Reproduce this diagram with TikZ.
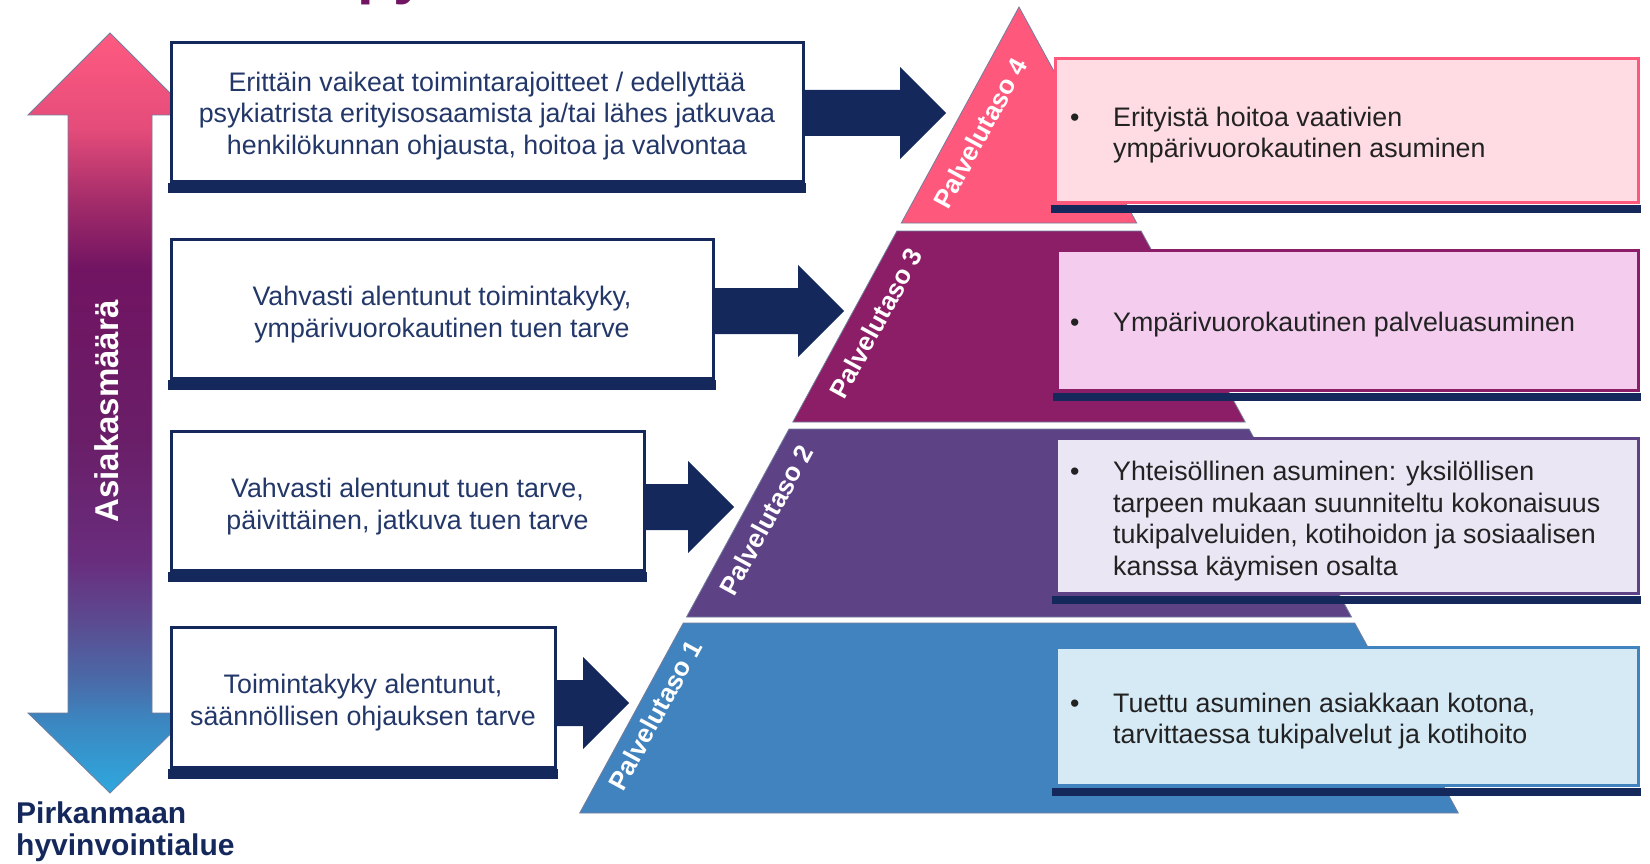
\documentclass[tikz,border=0pt]{standalone}
\usepackage{fontspec}
\setmainfont{Liberation Sans}
\usetikzlibrary{calc}
\definecolor{navy}{RGB}{20,40,92}
\definecolor{ltext}{RGB}{35,55,105}
\definecolor{rtextc}{RGB}{34,34,34}
\definecolor{tpink}{RGB}{255,88,125}
\definecolor{tmag}{RGB}{139,30,102}
\definecolor{tpur}{RGB}{94,66,134}
\definecolor{tblue}{RGB}{65,131,190}
\definecolor{fpink}{RGB}{255,220,228}
\definecolor{fmag}{RGB}{244,205,238}
\definecolor{fpur}{RGB}{234,230,244}
\definecolor{fblue}{RGB}{214,234,246}
\definecolor{gA}{RGB}{255,90,128}
\definecolor{gB}{RGB}{228,76,122}
\definecolor{gC}{RGB}{165,45,106}
\definecolor{gD}{RGB}{113,20,98}
\definecolor{gE}{RGB}{106,30,104}
\definecolor{gF}{RGB}{105,45,125}
\definecolor{gG}{RGB}{92,74,144}
\definecolor{gH}{RGB}{74,106,168}
\definecolor{gJ}{RGB}{60,134,192}
\definecolor{gI}{RGB}{46,168,222}
\pgfdeclareverticalshading{asiakshade}{100bp}{color(0bp)=(gI); color(25bp)=(gI); color(29.81bp)=(gJ); color(32.44bp)=(gH); color(36.40bp)=(gG); color(40.35bp)=(gF); color(48.25bp)=(gE); color(59.45bp)=(gD); color(64.06bp)=(gC); color(68.68bp)=(gB); color(75bp)=(gA); color(100bp)=(gA)}
\newcommand\boxfont{\fontsize{26.8}{31.6}\selectfont}
\newcommand\blockarrow[2]{%
  \fill[navy] let \p1=(#1.east), \p2=(#2) in
    (\x1-1pt,\y2+23pt) -- (\x2-46pt,\y2+23pt) -- (\x2-46pt,\y2+46pt) -- (\x2,\y2)
    -- (\x2-46pt,\y2-46pt) -- (\x2-46pt,\y2-23pt) -- (\x1-1pt,\y2-23pt) -- cycle;}
\tikzset{
  lbox/.style={draw=navy, line width=3pt, fill=white, inner sep=0pt},
  ltxt/.style={inner sep=0pt, text=ltext, font=\boxfont, align=center},
  rbox/.style={line width=3pt, inner sep=0pt},
  rtext/.style={inner sep=0pt, text=rtextc, font=\boxfont, anchor=west},
  tier/.style={draw=navy!60, line width=0.8pt},
  plabel/.style={text=white, font=\bfseries\fontsize{26}{30}\selectfont, rotate=61.4, inner sep=0pt},
  shadowbar/.style={fill=navy}
}
\begin{document}
\begin{tikzpicture}[x=1pt,y=-1pt]
\useasboundingbox (0,0) rectangle (1650,864);
\fill[white] (0,0) rectangle (1650,864);

% clipped title fragment
\node[anchor=base west, inner sep=0pt, font=\bfseries\fontsize{60}{60}\selectfont, text=gD] (ttl) at (357,-7.6) {py};

% left double arrow
\shade[shading=asiakshade, draw=navy!60, line width=0.8pt]
  (110,33) -- (192,115) -- (152,115) -- (152,713) -- (192,713) -- (110,793)
  -- (28,713) -- (68,713) -- (68,115) -- (28,115) -- cycle;
\node[anchor=base, rotate=90, inner sep=0pt, text=white, font=\bfseries\fontsize{33}{36}\selectfont] (asiak) at (118,411.5) {Asiakasmäärä};

% pyramid tiers
\fill[tpink, tier] (1019,7) -- (1136.7,223) -- (901.3,223) -- cycle;
\fill[tmag, tier] (896.9,231) -- (1141.1,231) -- (1245.2,422) -- (792.8,422) -- cycle;
\fill[tpur, tier] (789,429) -- (1249,429) -- (1351.5,617) -- (686.5,617) -- cycle;
\fill[tblue, tier] (683.3,623) -- (1354.7,623) -- (1458.3,813) -- (579.7,813) -- cycle;

% tier labels
\node[plabel] (p4) at (980,133) {Palvelutaso 4};
\node[plabel] (p3) at (876,323) {Palvelutaso 3};
\node[plabel] (p2) at (766,520) {Palvelutaso 2};
\node[plabel] (p1) at (655,715) {Palvelutaso 1};

% arrow tips
\coordinate (t1) at (946,113);
\coordinate (t2) at (844,311);
\coordinate (t3) at (734,507);
\coordinate (t4) at (629,703);

% left boxes
\node[lbox, minimum width=632pt, minimum height=139pt] (b1) at (487,112.5) {};
\node[lbox, minimum width=542pt, minimum height=139pt] (b2) at (442,308.5) {};
\node[lbox, minimum width=473pt, minimum height=139pt] (b3) at (407.5,500.5) {};
\node[lbox, minimum width=384pt, minimum height=140pt] (b4) at (363,697) {};
\foreach \b in {b1,b2,b3,b4}{
  \fill[shadowbar] ([xshift=-1.5pt]\b.south west) rectangle ([xshift=1.5pt,yshift=-10pt]\b.south east);
}
\node[ltxt] (b1t) at ([yshift=-3.5pt]b1.center) {Erittäin vaikeat toimintarajoitteet / edellyttää\\psykiatrista erityisosaamista ja/tai lähes jatkuvaa\\henkilökunnan ohjausta, hoitoa ja valvontaa};
\node[ltxt] (b2t) at ([yshift=-6pt]b2.center) {Vahvasti alentunut toimintakyky,\\ympärivuorokautinen tuen tarve};
\node[ltxt] (b3t) at ([yshift=-6pt]b3.center) {Vahvasti alentunut tuen tarve,\\päivittäinen, jatkuva tuen tarve};
\node[ltxt] (b4t) at ([yshift=-5.5pt]b4.center) {Toimintakyky alentunut,\\säännöllisen ohjauksen tarve};

% block arrows
\blockarrow{b1}{t1}
\blockarrow{b2}{t2}
\blockarrow{b3}{t3}
\blockarrow{b4}{t4}

% right boxes
\node[rbox, draw=tpink, fill=fpink, minimum width=583pt, minimum height=143pt] (r4) at (1346.5,130.5) {};
\node[rbox, draw=tmag, fill=fmag, minimum width=581pt, minimum height=140pt] (r3) at (1347.5,320) {};
\node[rbox, draw=tpur, fill=fpur, minimum width=582pt, minimum height=155pt] (r2) at (1347,515.5) {};
\node[rbox, draw=tblue, fill=fblue, minimum width=582pt, minimum height=138pt] (r1) at (1347,716) {};
\foreach \b in {r1,r2,r3,r4}{
  \fill[shadowbar] ([xshift=-3pt,yshift=-1.5pt]\b.south west) rectangle ([xshift=1.5pt,yshift=-9.5pt]\b.south east);
}
\node[rtext] (r4t) at (1070,135.5) {\begin{tabular}{@{}p{43pt}@{}l@{}}•&Erityistä hoitoa vaativien\\&ympärivuorokautinen asuminen\end{tabular}};
\node[rtext] (r3t) at (1070,325.5) {\begin{tabular}{@{}p{43pt}@{}l@{}}•&Ympärivuorokautinen palveluasuminen\end{tabular}};
\node[rtext] (r2t) at (1070,521.5) {\begin{tabular}{@{}p{43pt}@{}l@{}}•&Yhteisöllinen asuminen: yksilöllisen\\&tarpeen mukaan suunniteltu kokonaisuus\\&tukipalveluiden, kotihoidon ja sosiaalisen\\&kanssa käymisen osalta\end{tabular}};
\node[rtext] (r1t) at (1070,721.5) {\begin{tabular}{@{}p{43pt}@{}l@{}}•&Tuettu asuminen asiakkaan kotona,\\&tarvittaessa tukipalvelut ja kotihoito\end{tabular}};

% logo text
\node[anchor=base west, inner sep=0pt, text=navy, font=\bfseries\fontsize{30}{32}\selectfont] (logo1) at (16,823) {Pirkanmaan};
\node[anchor=base west, inner sep=0pt, text=navy, font=\bfseries\fontsize{30}{32}\selectfont] (logo2) at (16,855) {hyvinvointialue};
\end{tikzpicture}
\end{document}
